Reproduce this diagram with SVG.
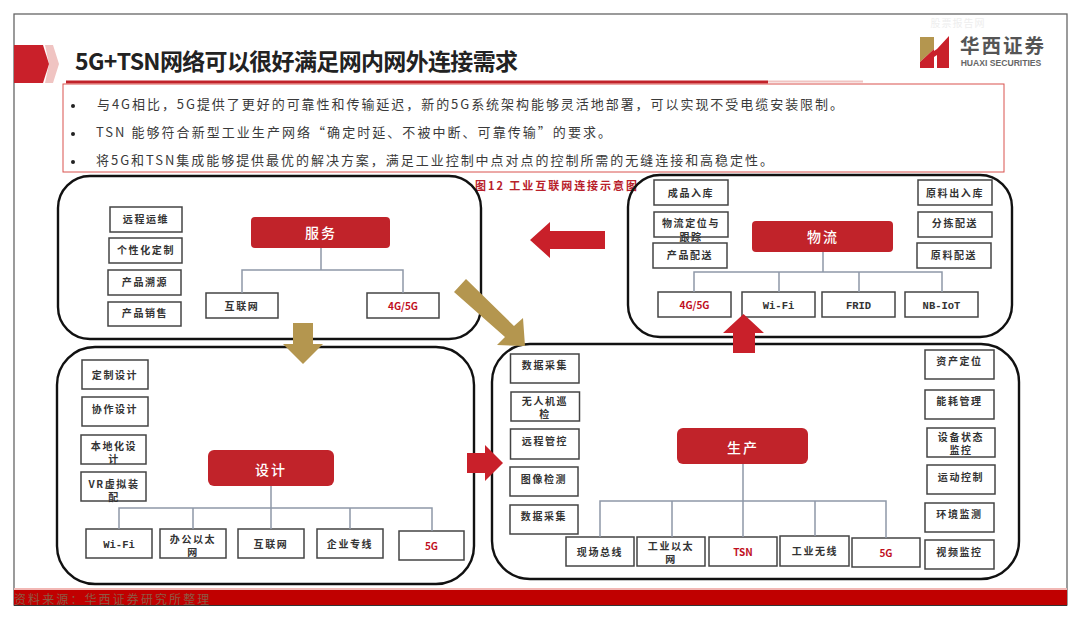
<svg xmlns="http://www.w3.org/2000/svg" width="1080" height="619" viewBox="0 0 1080 619">
<style>
text{font-family:"Noto Sans CJK SC","Liberation Sans",sans-serif}
.panel{fill:none;stroke:#111;stroke-width:2.4}
.box{fill:#fff;stroke:#444;stroke-width:1.5}
.t{font-size:10px;font-weight:700;fill:#333;text-anchor:middle;letter-spacing:1.6px}
.r{fill:#c00f1e}
.lat{font-family:"Liberation Mono","DejaVu Sans Mono",monospace;font-size:10.5px;font-weight:700;letter-spacing:0}
.hub{fill:#c1232a}
.hubt{font-size:14px;font-weight:500;fill:#fff;text-anchor:middle;letter-spacing:2px}
.body{font-size:13px;fill:#3a3a3a}
.tree{fill:none;stroke:#8e98a8;stroke-width:1.5}
.gold{fill:#b4964f}
.red{fill:#c9202a}
</style>
<rect width="1080" height="619" fill="#fff"/>
<g id="frame">
<rect x="14" y="14" width="1053" height="591" fill="none" stroke="#666" stroke-width="1.3"/>
<rect x="14" y="588" width="1053" height="2.5" fill="#f2b8b5"/>
<rect x="14" y="590" width="1053" height="15" fill="#c00000"/>
<line x1="14" y1="605.5" x2="1067" y2="605.5" stroke="#333" stroke-width="1"/>
<text x="14" y="604" font-size="12" fill="#8d5a44" letter-spacing="2.1">资料来源：华西证券研究所整理</text>
</g>
<g id="header">
<polygon points="45,45 53,45 59,64 53,83 45,83 49,64" fill="#f0c4c2"/>
<polygon points="14,45 43,45 49,64 43,83 14,83" fill="#c9202a"/>
<text x="75" y="70" font-size="23" font-weight="700" fill="#222" textLength="443" lengthAdjust="spacing">5G+TSN网络可以很好满足网内网外连接需求</text>
<rect x="66" y="80.500" width="702" height="3" fill="#c1232a"/>
<rect x="768" y="80.500" width="95" height="2" fill="#f0c4c2"/>
</g>
<g id="logo">
<text x="958" y="27" font-size="10" fill="#eeeeee" text-anchor="middle" letter-spacing="1">股票报告网</text>
<polygon points="920,37 934,37 934,49 920,62" fill="#b4964f"/>
<polygon points="920,62 934,49 934,68 920,68" fill="#c9202a"/>
<polygon points="934,51 937,49 949,36 949,68 937,68 937,55 934,57" fill="#c9202a"/>
<text x="1003" y="53" font-size="19.500" font-weight="700" fill="#555" text-anchor="middle" letter-spacing="2">华西证券</text>
<text x="1001" y="66" font-size="8.600" font-weight="700" fill="#666" text-anchor="middle" style="font-family:'Liberation Sans',sans-serif">HUAXI SECURITIES</text>
</g>
<g id="summary">
<rect x="63" y="84" width="941" height="88" fill="none" stroke="#d9534f" stroke-width="1"/>
<circle cx="73" cy="106" r="2" fill="#222"/>
<circle cx="73" cy="134" r="2" fill="#222"/>
<circle cx="73" cy="162" r="2" fill="#222"/>
<text class="body" x="97" y="108.500" textLength="746" lengthAdjust="spacing">与4G相比，5G提供了更好的可靠性和传输延迟，新的5G系统架构能够灵活地部署，可以实现不受电缆安装限制。</text>
<text class="body" x="96" y="136.500" textLength="515" lengthAdjust="spacing">TSN 能够符合新型工业生产网络“确定时延、不被中断、可靠传输”的要求。</text>
<text class="body" x="96" y="164.500" textLength="677" lengthAdjust="spacing">将5G和TSN集成能够提供最优的解决方案，满足工业控制中点对点的控制所需的无缝连接和高稳定性。</text>
</g>
<text id="caption" x="475" y="190" font-size="11" font-weight="700" fill="#b8202a" textLength="162" lengthAdjust="spacing">图12 工业互联网连接示意图</text>

<g id="panel-service">
<rect class="panel" x="58" y="176" width="423" height="163" rx="32"/>
<g id="s1"><rect class="box" x="110" y="207" width="72" height="25"/><text class="t" x="146" y="223">远程运维</text></g>
<g id="s2"><rect class="box" x="109" y="238" width="73" height="25"/><text class="t" x="146" y="254">个性化定制</text></g>
<g id="s3"><rect class="box" x="108" y="270" width="73" height="25"/><text class="t" x="145" y="286">产品溯源</text></g>
<g id="s4"><rect class="box" x="108" y="302" width="73" height="24"/><text class="t" x="145" y="317">产品销售</text></g>
<g id="s-hub"><rect class="hub" x="251" y="217" width="139" height="31" rx="4"/><text class="hubt" x="321" y="238">服务</text></g>
<g id="s-net"><rect class="box" x="206" y="293" width="72" height="25"/><text class="t" x="242" y="310">互联网</text></g>
<g id="s-5g"><rect class="box" x="367" y="293" width="72" height="25"/><text class="t r" x="403" y="310" style="letter-spacing:0">4G/5G</text></g>
</g>

<g id="panel-logistics">
<rect class="panel" x="628" y="175" width="384" height="162" rx="32"/>
<g id="l1"><rect class="box" x="654" y="180" width="74" height="25"/><text class="t" x="691" y="197">成品入库</text></g>
<g id="l2"><rect class="box" x="654" y="212" width="74" height="25"/><text class="t" x="691" y="227">物流定位与</text><text class="t" x="691" y="241">跟踪</text></g>
<g id="l3"><rect class="box" x="653" y="243" width="74" height="25"/><text class="t" x="690" y="259">产品配送</text></g>
<g id="l4"><rect class="box" x="918" y="180" width="74" height="25"/><text class="t" x="955" y="197">原料出入库</text></g>
<g id="l5"><rect class="box" x="918" y="212" width="74" height="25"/><text class="t" x="955" y="227">分拣配送</text></g>
<g id="l6"><rect class="box" x="917" y="243" width="74" height="25"/><text class="t" x="954" y="259">原料配送</text></g>
<g id="l-hub"><rect class="hub" x="752" y="221" width="141" height="31" rx="4"/><text class="hubt" x="823" y="242">物流</text></g>
<g id="l-5g"><rect class="box" x="658" y="292" width="73" height="25"/><text class="t r" x="694.500" y="309" style="letter-spacing:0">4G/5G</text></g>
<g id="l-wifi"><rect class="box" x="742" y="292" width="73" height="25"/><text class="t lat" x="778.500" y="309">Wi-Fi</text></g>
<g id="l-frid"><rect class="box" x="822" y="292" width="73" height="25"/><text class="t lat" x="858.500" y="309">FRID</text></g>
<g id="l-nb"><rect class="box" x="905" y="292" width="73" height="25"/><text class="t lat" x="941.500" y="309">NB-IoT</text></g>
</g>

<g id="panel-design">
<rect class="panel" x="57" y="347" width="417" height="237" rx="38"/>
<g id="d1"><rect class="box" x="82" y="360" width="66" height="29"/><text class="t" x="115" y="379">定制设计</text></g>
<g id="d2"><rect class="box" x="82" y="397" width="66" height="29"/><text class="t" x="115" y="413">协作设计</text></g>
<g id="d3"><rect class="box" x="81" y="435" width="65" height="29"/><text class="t" x="114" y="450">本地化设</text><text class="t" x="114" y="463">计</text></g>
<g id="d4"><rect class="box" x="81" y="472" width="65" height="29"/><text class="t" x="114" y="488">VR虚拟装</text><text class="t" x="114" y="501">配</text></g>
<g id="d-hub"><rect class="hub" x="208" y="450" width="126" height="36" rx="6"/><text class="hubt" x="271" y="475">设计</text></g>
<g id="d-wifi"><rect class="box" x="86" y="529" width="66" height="29"/><text class="t lat" x="119" y="548">Wi-Fi</text></g>
<g id="d-eth"><rect class="box" x="160" y="529" width="66" height="29"/><text class="t" x="193" y="543">办公以太</text><text class="t" x="193" y="556">网</text></g>
<g id="d-net"><rect class="box" x="238" y="529" width="66" height="29"/><text class="t" x="271" y="548">互联网</text></g>
<g id="d-line"><rect class="box" x="317" y="529" width="66" height="29"/><text class="t" x="350" y="548">企业专线</text></g>
<g id="d-5g"><rect class="box" x="399" y="531" width="65" height="29"/><text class="t r" x="431.500" y="550" style="letter-spacing:0">5G</text></g>
</g>

<g id="panel-production">
<rect class="panel" x="492" y="344" width="527" height="235" rx="38"/>
<g id="p1"><rect class="box" x="510.500" y="354" width="68.500" height="29"/><text class="t" x="545" y="369">数据采集</text></g>
<g id="p2"><rect class="box" x="511" y="392" width="68.500" height="29"/><text class="t" x="545" y="405">无人机巡</text><text class="t" x="545" y="418">检</text></g>
<g id="p3"><rect class="box" x="510.500" y="429" width="68.500" height="30"/><text class="t" x="545" y="445">远程管控</text></g>
<g id="p4"><rect class="box" x="510" y="467" width="68" height="29"/><text class="t" x="544" y="483">图像检测</text></g>
<g id="p5"><rect class="box" x="510" y="505" width="68" height="29"/><text class="t" x="544" y="520">数据采集</text></g>
<g id="p6"><rect class="box" x="925" y="350" width="69" height="29"/><text class="t" x="959.500" y="365">资产定位</text></g>
<g id="p7"><rect class="box" x="925" y="390" width="69" height="29"/><text class="t" x="959.500" y="405">能耗管理</text></g>
<g id="p8"><rect class="box" x="927" y="428" width="68" height="29"/><text class="t" x="961" y="441">设备状态</text><text class="t" x="961" y="454">监控</text></g>
<g id="p9"><rect class="box" x="927" y="465" width="68" height="29"/><text class="t" x="961" y="481">运动控制</text></g>
<g id="p10"><rect class="box" x="925" y="503" width="69" height="29"/><text class="t" x="959.500" y="518">环境监测</text></g>
<g id="p11"><rect class="box" x="925" y="540" width="69" height="29"/><text class="t" x="959.500" y="556">视频监控</text></g>
<g id="p-hub"><rect class="hub" x="677" y="428" width="131" height="36" rx="6"/><text class="hubt" x="743" y="453">生产</text></g>
<g id="p-bus"><rect class="box" x="566" y="537" width="68" height="29"/><text class="t" x="600" y="556">现场总线</text></g>
<g id="p-eth"><rect class="box" x="637" y="537" width="68" height="29"/><text class="t" x="671" y="550">工业以太</text><text class="t" x="671" y="563">网</text></g>
<g id="p-tsn"><rect class="box" x="709" y="537" width="68" height="29"/><text class="t r" x="743" y="556" style="letter-spacing:0">TSN</text></g>
<g id="p-wl"><rect class="box" x="780" y="536" width="69" height="30"/><text class="t" x="815" y="555">工业无线</text></g>
<g id="p-5g"><rect class="box" x="852" y="538" width="68" height="29"/><text class="t r" x="886" y="557" style="letter-spacing:0">5G</text></g>
</g>

<g id="connectors">
<path class="tree" d="M321 248V270M242 293V270H403V293"/>
<path class="tree" d="M823 252V272M694 292V272H942V292M779 272V292M859 272V292"/>
<path class="tree" d="M271 486V529M119 529V508H432V531M193 508V529M350 508V529"/>
<path class="tree" d="M743 464V537M600 537V501H886V538M672 501V537M815 501V536"/>
<polygon class="red" points="605,231 550,231 550,222 530,240 550,258 550,249 605,249"/>
<polygon class="gold" points="293,323 313,323 313,344 323,344 303,364 283,344 293,344"/>
<polygon class="gold" points="466,279 514,326 523,318 525,346 497,345 505,337 454,292"/>
<polygon class="red" points="733,353 733,333 723,333 743.500,314 764,333 755,333 755,353"/>
<polygon class="red" points="467,453 485,453 485,445 503,463 485,481 485,473 467,473"/>
</g>
</svg>
